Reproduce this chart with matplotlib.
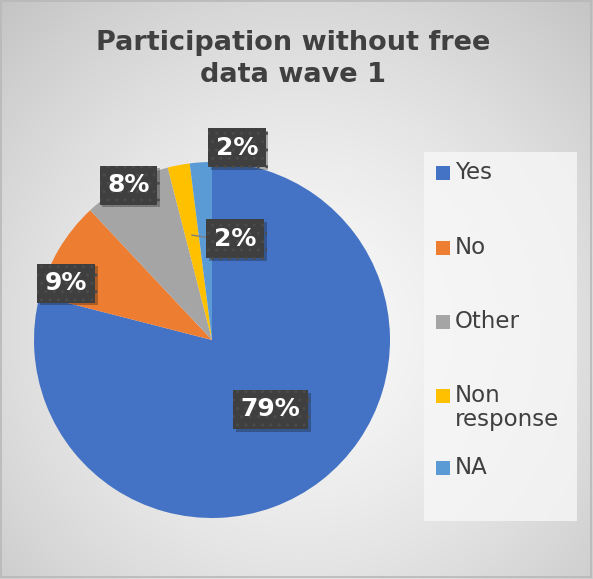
import numpy as np
import matplotlib
matplotlib.use("Agg")
from matplotlib import pyplot as plt
from matplotlib.patches import Rectangle
import matplotlib.patheffects as pe

# data
categories = ['Yes', 'No', 'Other', 'Non response', 'NA']
shares = [79, 9, 8, 2, 2]
pct_labels = ['79%', '9%', '8%', '2%', '2%']
colors = ['#4472C4', '#ED7D31', '#A5A5A5', '#FFC000', '#5B9BD5']

# label placement (pie radius units), chosen to match the original
label_pos = [(0.33, -0.39), (-0.82, 0.32), (-0.47, 0.87), (0.13, 0.57), (0.14, 1.08)]

W, H = 593, 579
plt.rcParams['hatch.linewidth'] = 1.0
fig = plt.figure(figsize=(W / 100, H / 100), dpi=100)

# gradient background
bg = fig.add_axes([0, 0, 1, 1], zorder=-10)
yy, xx = np.mgrid[0:H, 0:W]
d = np.sqrt(((xx - 300) / 420.0) ** 2 + ((yy - 330) / 420.0) ** 2)
shade = np.clip(0.975 - 0.19 * d ** 1.5, 0, 1)
bg.imshow(np.dstack([shade, shade, shade]), extent=[0, W, H, 0], aspect='auto')
bg.set_xlim(0, W)
bg.set_ylim(H, 0)
bg.axis('off')
bg.add_patch(Rectangle((1, 1), W - 3, H - 3, fill=False, edgecolor='#b8b8b8', lw=1.2))

# title
fig.text(293 / W, 1 - 59 / H, 'Participation without free\ndata wave 1', ha='center', va='center',
         fontsize=19.5, fontweight='bold', color='#404040', linespacing=1.3)

# pie
cx, cy, R = 212, H - 340, 178
lim = 1.15
ax = fig.add_axes([(cx - lim * R) / W, (cy - lim * R) / H, 2 * lim * R / W, 2 * lim * R / H])
wedges, _ = ax.pie(shares, colors=colors, startangle=90, counterclock=False, radius=1,
                   wedgeprops=dict(linewidth=0))
ax.set_xlim(-lim, lim)
ax.set_ylim(-lim, lim)
ax.axis('off')

# leader line for the "Non response" label
w = wedges[3]
mid = np.deg2rad((w.theta1 + w.theta2) / 2)
ax.plot([0.6 * np.cos(mid), label_pos[3][0] - 0.12], [0.6 * np.sin(mid), label_pos[3][1]],
        color='#7f7f7f', lw=1)

for (x, y), txt in zip(label_pos, pct_labels):
    t = ax.text(x, y, txt, ha='center', va='center', fontsize=18, fontweight='bold', color='white',
                bbox=dict(boxstyle='square,pad=0.3', facecolor='#3f3f3f', edgecolor='#4b4b4b',
                          linewidth=0, hatch='..'), zorder=5)
    t.get_bbox_patch().set_path_effects([pe.SimplePatchShadow(offset=(2, -2), alpha=0.3), pe.Normal()])

# legend (drawn by hand to keep Excel's uneven spacing)
fig.patches.append(Rectangle((424 / W, 1 - 521 / H), 153 / W, 369 / H, transform=fig.transFigure,
                             facecolor='#f7f7f7', edgecolor='none', alpha=0.8, zorder=1))
leg_rows = [173, 248, 322, 396, 468]
leg_text = ['Yes', 'No', 'Other', 'Non\nresponse', 'NA']
for row, lab, col in zip(leg_rows, leg_text, colors):
    fig.patches.append(Rectangle((436 / W, 1 - (row + 7) / H), 14 / W, 14 / H, transform=fig.transFigure,
                                 facecolor=col, edgecolor='none', zorder=2))
    fig.text(455 / W, 1 - (row - 12) / H, lab, ha='left', va='top', fontsize=16.5, color='#404040',
             linespacing=1.05, zorder=3)

fig.savefig('out.png', dpi=100)
